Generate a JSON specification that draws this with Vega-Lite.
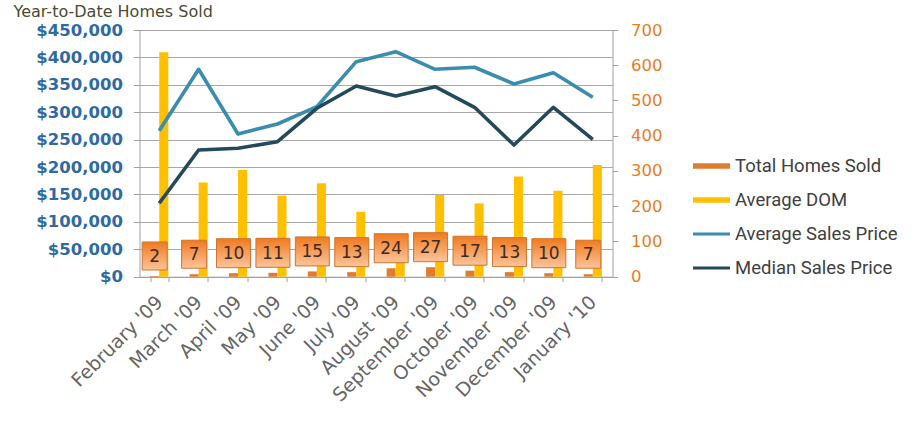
{
  "$schema": "https://vega.github.io/schema/vega-lite/v6.json",
  "width": 473,
  "height": 246.7,
  "autosize": {"type": "none"},
  "padding": {"left": 139.5, "top": 30, "right": 304.5, "bottom": 146.3},
  "background": "white",
  "config": {"view": {"stroke": null}},
  "title": {
    "text": "Year-to-Date Homes Sold",
    "anchor": "start",
    "frame": "group",
    "orient": "top",
    "font": "DejaVu Sans",
    "fontSize": 16,
    "fontWeight": "normal",
    "color": "#4b4a33",
    "baseline": "alphabetic",
    "offset": 0,
    "dx": -126,
    "dy": 11
  },
  "data": {
    "values": [
      {"month": "February '09", "homes": 2, "dom": 637, "avg": 266300, "median": 133900},
      {"month": "March '09", "homes": 7, "dom": 267, "avg": 378300, "median": 231100},
      {"month": "April '09", "homes": 10, "dom": 303, "avg": 260300, "median": 234200},
      {"month": "May '09", "homes": 11, "dom": 230, "avg": 278500, "median": 246300},
      {"month": "June '09", "homes": 15, "dom": 265, "avg": 310100, "median": 307200},
      {"month": "July '09", "homes": 13, "dom": 184, "avg": 392200, "median": 347900},
      {"month": "August '09", "homes": 24, "dom": 90, "avg": 410400, "median": 329600},
      {"month": "September '09", "homes": 27, "dom": 232, "avg": 378300, "median": 346600},
      {"month": "October '09", "homes": 17, "dom": 208, "avg": 382000, "median": 309000},
      {"month": "November '09", "homes": 13, "dom": 284, "avg": 351500, "median": 240200},
      {"month": "December '09", "homes": 10, "dom": 244, "avg": 372100, "median": 309000},
      {"month": "January '10", "homes": 7, "dom": 317, "avg": 327200, "median": 250600}
    ]
  },
  "encoding": {
    "x": {
      "field": "month",
      "type": "nominal",
      "sort": null,
      "scale": {"paddingInner": 0.54, "paddingOuter": 0.27},
      "axis": {
        "title": null,
        "labelAngle": -45,
        "labelAlign": "right",
        "labelBaseline": "middle",
        "labelFont": "DejaVu Sans",
        "labelFontSize": 19,
        "labelColor": "#666666",
        "labelPadding": 17,
        "labelLimit": 300,
        "tickBand": "extent",
        "tickSize": 5,
        "tickColor": "#a0a0a0",
        "domainColor": "#a0a0a0",
        "labelOverlap": false
      }
    }
  },
  "layer": [
    {
      "transform": [{"fold": ["homes", "dom"], "as": ["series", "val"]}],
      "mark": {"type": "bar"},
      "encoding": {
        "xOffset": {"field": "series", "type": "nominal", "scale": {"domain": ["homes", "dom"], "paddingInner": 0, "paddingOuter": 0}},
        "y": {
          "field": "val",
          "type": "quantitative",
          "scale": {"domain": [0, 700], "nice": false},
          "axis": {
            "orient": "right",
            "title": null,
            "values": [0, 100, 200, 300, 400, 500, 600, 700],
            "labelFont": "DejaVu Sans",
            "labelFontSize": 16.5,
            "labelColor": "#e77d27",
            "labelPadding": 13,
            "tickSize": 5,
            "tickColor": "#a0a0a0",
            "domainColor": "#a0a0a0",
            "grid": false
          }
        },
        "color": {
          "field": "series",
          "type": "nominal",
          "scale": {
            "domain": ["homes", "dom", "avg", "median"],
            "range": ["#e07c30", "#ffc000", "#3b8db0", "#24495a"]
          },
          "legend": {
            "title": null,
            "orient": "none",
            "legendX": 553.5,
            "legendY": 119,
            "labelFont": "Roboto",
            "labelFontSize": 18.5,
            "labelColor": "#404040",
            "labelLimit": 300,
            "labelExpr": "{'homes': 'Total Homes Sold', 'dom': 'Average DOM', 'avg': 'Average Sales Price', 'median': 'Median Sales Price'}[datum.value]",
            "symbolSize": 1369,
            "clipHeight": 34,
            "rowPadding": 0,
            "labelOffset": 5,
            "encode": {
              "symbols": {
                "update": {
                  "shape": {"signal": "indexof(['homes', 'dom'], datum.value) >= 0 ? 'M-1,-0.15H1V0.15H-1Z' : 'M-1,-0.08H1V0.08H-1Z'"},
                  "fill": {"scale": "color", "field": "value"},
                  "strokeWidth": {"value": 0},
                  "opacity": {"value": 1}
                }
              }
            }
          }
        }
      }
    },
    {
      "transform": [{"fold": ["avg", "median"], "as": ["series", "val"]}],
      "mark": {"type": "line", "strokeWidth": 3.6, "strokeJoin": "round"},
      "encoding": {
        "y": {
          "field": "val",
          "type": "quantitative",
          "scale": {"domain": [0, 450000], "nice": false},
          "axis": {
            "orient": "left",
            "title": null,
            "values": [0, 50000, 100000, 150000, 200000, 250000, 300000, 350000, 400000, 450000],
            "format": "$,.0f",
            "labelFont": "DejaVu Sans",
            "labelFontWeight": "bold",
            "labelFontSize": 16.5,
            "labelColor": "#2f6aa3",
            "labelPadding": 11,
            "tickSize": 6,
            "tickColor": "#a0a0a0",
            "domainColor": "#a0a0a0",
            "grid": true,
            "gridColor": "#a8a8a8",
            "gridWidth": 1.2
          }
        },
        "color": {"field": "series", "type": "nominal", "legend": null}
      }
    },
    {
      "transform": [{"fold": ["homes"], "as": ["series", "val"]}],
      "mark": {
        "type": "point",
        "filled": true,
        "opacity": 1,
        "fill": {
          "gradient": "linear",
          "x1": 0, "y1": 0, "x2": 0, "y2": 1,
          "stops": [
            {"offset": 0, "color": "#f07a1e"},
            {"offset": 1, "color": "#fbc49b"}
          ]
        },
        "stroke": "#cf7432",
        "strokeWidth": 1,
        "yOffset": -20
      },
      "encoding": {
        "xOffset": {"field": "series", "type": "nominal", "scale": {"domain": ["homes", "dom"], "paddingInner": 0, "paddingOuter": 0}},
        "y": {"field": "val", "type": "quantitative", "scale": {"domain": [0, 700], "nice": false}, "axis": null},
        "shape": {"condition": {"test": "datum.val >= 10", "value": "M-1,-0.853H1V0.853H-1Z"}, "value": "M-0.893,-1H0.893V1H-0.893Z"},
        "size": {"condition": {"test": "datum.val >= 10", "value": 1156}, "value": 784}
      }
    },
    {
      "transform": [{"fold": ["homes"], "as": ["series", "val"]}],
      "mark": {
        "type": "text",
        "font": "DejaVu Sans",
        "fontSize": 17,
        "color": "#3b2a1e",
        "baseline": "middle",
        "align": "center",
        "yOffset": -19
      },
      "encoding": {
        "xOffset": {"field": "series", "type": "nominal", "scale": {"domain": ["homes", "dom"], "paddingInner": 0, "paddingOuter": 0}},
        "y": {"field": "val", "type": "quantitative", "scale": {"domain": [0, 700], "nice": false}, "axis": null},
        "text": {"field": "val", "type": "quantitative"}
      }
    }
  ],
  "resolve": {"scale": {"y": "independent"}}
}
